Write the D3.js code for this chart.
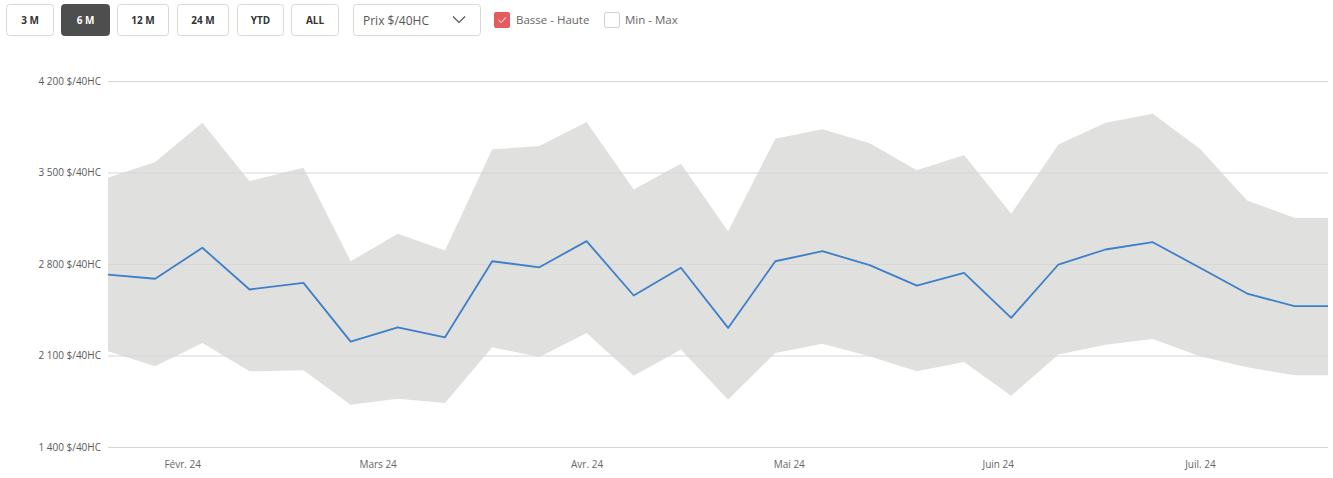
<!DOCTYPE html>
<html>
<head>
<meta charset="utf-8">
<script src="https://cdn.jsdelivr.net/npm/d3@7"></script>
<style>
  body { margin: 0; background: #fff; font-family: "Open Sans", sans-serif; }
  svg { display: block; }
</style>
</head>
<body>
<svg id="svg"></svg>
<script>
  // weekly values (last entry repeats the last week to the right edge)
  const dates = ["2024-01-21","2024-01-28","2024-02-04","2024-02-11","2024-02-19","2024-02-26",
    "2024-03-04","2024-03-11","2024-03-18","2024-03-25","2024-04-01","2024-04-08","2024-04-15",
    "2024-04-22","2024-04-29","2024-05-06","2024-05-13","2024-05-20","2024-05-27","2024-06-03",
    "2024-06-10","2024-06-17","2024-06-24","2024-07-01","2024-07-08","2024-07-15","2024-07-20"];
  const mid  = [2719, 2687, 2924, 2605, 2656, 2206, 2316, 2239, 2821, 2775, 2975, 2559, 2771,
    2311, 2821, 2898, 2791, 2635, 2732, 2388, 2796, 2911, 2967, 2771, 2574, 2477, 2477];
  const high = [3460, 3580, 3881, 3434, 3537, 2821, 3031, 2903, 3677, 3702, 3886, 3370, 3567,
    3051, 3759, 3830, 3723, 3518, 3633, 3184, 3715, 3881, 3950, 3682, 3286, 3154, 3154];
  const low  = [2132, 2017, 2196, 1979, 1987, 1724, 1770, 1737, 2163, 2089, 2273, 1946, 2145,
    1762, 2120, 2189, 2094, 1979, 2051, 1793, 2107, 2183, 2227, 2094, 2010, 1948, 1948];

  const yTicks = [1400, 2100, 2800, 3500, 4200];
  const monthTicks = ["2024-02-01","2024-03-01","2024-04-01","2024-05-01","2024-06-01","2024-07-01"];
  const monthLabels = ["Févr. 24","Mars 24","Avr. 24","Mai 24","Juin 24","Juil. 24"];
  const periods = ["3 M","6 M","12 M","24 M","YTD","ALL"];
  const activePeriod = "6 M";

  const W = 1333, H = 478;
  const marginLeft = 108, marginRight = 5, marginTop = 81, marginBottom = 31;
  const width = W - marginLeft - marginRight;
  const height = H - marginTop - marginBottom;

  const parseDate = d3.timeParse("%Y-%m-%d");
  const fmtNum = v => d3.format(",")(v).replace(/,/g, " ") + " $/40HC";

  const data = dates.map((d, i) => ({ date: parseDate(d), mid: mid[i], high: high[i], low: low[i] }));

  const svg = d3.select("#svg").attr("width", W).attr("height", H);

  // ---- controls row ----
  const btnW = [47, 48, 51, 51, 46, 47];
  const btnGap = [0, 8, 8, 9, 9, 8];
  let bx = 6;
  const ctrl = svg.append("g");
  periods.forEach((p, i) => {
    bx += btnGap[i];
    const on = p === activePeriod;
    const g = ctrl.append("g").attr("transform", `translate(${bx},4)`);
    g.append("rect")
      .attr("x", 0.5).attr("y", 0.5)
      .attr("width", btnW[i]).attr("height", 31)
      .attr("rx", 3)
      .attr("fill", on ? "#4e4e4e" : "#fff")
      .attr("stroke", on ? "#4e4e4e" : "#dcd7d3");
    g.append("text")
      .attr("x", btnW[i] / 2 + 0.5).attr("y", 20)
      .attr("text-anchor", "middle")
      .attr("font-size", 10).attr("font-weight", 700)
      .attr("fill", on ? "#fff" : "#333")
      .text(p);
    bx += btnW[i];
  });

  // dropdown
  const dd = ctrl.append("g").attr("transform", "translate(353,4)");
  dd.append("rect").attr("x", 0.5).attr("y", 0.5).attr("width", 127).attr("height", 31)
    .attr("rx", 3).attr("fill", "#fff").attr("stroke", "#dcd7d3");
  dd.append("text").attr("x", 10).attr("y", 20.5).attr("font-size", 12).attr("fill", "#555")
    .text("Prix $/40HC");
  dd.append("polyline").attr("points", "100,12.5 106,18.5 112,12.5")
    .attr("fill", "none").attr("stroke", "#555").attr("stroke-width", 1.2);

  // checkboxes
  ctrl.append("rect").attr("x", 494).attr("y", 12).attr("width", 16).attr("height", 16)
    .attr("rx", 2).attr("fill", "#e35b5b");
  ctrl.append("polyline").attr("points", "498.5,20 501.2,22.6 505.8,17.4")
    .attr("fill", "none").attr("stroke", "#fff").attr("stroke-width", 1);
  ctrl.append("text").attr("x", 516).attr("y", 24).attr("font-size", 11.5).attr("fill", "#666")
    .text("Basse - Haute");
  ctrl.append("rect").attr("x", 604.5).attr("y", 12.5).attr("width", 15).attr("height", 15)
    .attr("rx", 2).attr("fill", "#fff").attr("stroke", "#cfcfcf");
  ctrl.append("text").attr("x", 625).attr("y", 24).attr("font-size", 11.5).attr("fill", "#666")
    .text("Min - Max");

  // ---- chart ----
  const xScale = d3.scaleTime()
    .range([0, width])
    .domain(d3.extent(data, d => d.date));

  const yScale = d3.scaleLinear()
    .range([height, 0])
    .domain([1400, 4200]);

  const chart = svg.append("g")
    .attr("transform", `translate(${marginLeft}, ${marginTop})`);

  chart.append("path")
    .datum(data)
    .attr("fill", "#e0e0df")
    .attr("d", d3.area()
      .x(d => xScale(d.date))
      .y0(d => yScale(d.low))
      .y1(d => yScale(d.high)));

  // horizontal grid + y labels
  const yAxis = chart.append("g")
    .call(d3.axisLeft(yScale).tickValues(yTicks).tickSize(-width).tickPadding(7).tickFormat(fmtNum));
  yAxis.select(".domain").remove();
  yAxis.selectAll(".tick line").attr("stroke", "#d6d6d6").attr("stroke-width", 1);
  yAxis.selectAll(".tick text")
    .attr("fill", "#595959")
    .attr("font-family", "Open Sans")
    .attr("font-size", 10);

  // month labels
  const xAxis = chart.append("g")
    .attr("transform", `translate(0, ${height})`)
    .call(d3.axisBottom(xScale)
      .tickValues(monthTicks.map(parseDate))
      .tickSize(0).tickPadding(14)
      .tickFormat((d, i) => monthLabels[i]));
  xAxis.select(".domain").remove();
  xAxis.selectAll(".tick text")
    .attr("fill", "#666")
    .attr("font-family", "Open Sans")
    .attr("font-size", 10);

  chart.append("path")
    .datum(data)
    .attr("fill", "none")
    .attr("stroke", "#3d7fca")
    .attr("stroke-width", 1.8)
    .attr("stroke-linejoin", "round")
    .attr("d", d3.line()
      .x(d => xScale(d.date))
      .y(d => yScale(d.mid)));
</script>
</body>
</html>
